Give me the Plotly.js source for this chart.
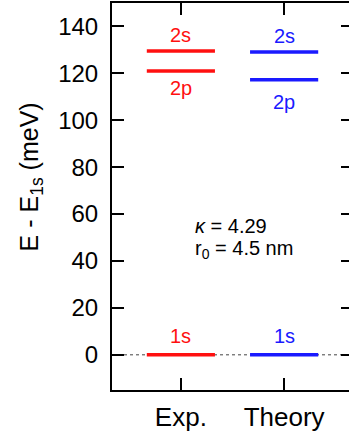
<!DOCTYPE html>
<html>
<head>
<meta charset="utf-8">
<script src="https://cdn.plot.ly/plotly-3.0.1.min.js"></script>
<style>
html, body { margin:0; padding:0; overflow:hidden; background:#fff; width:349px; height:434px; }
#chart { width:356px; height:434px; }
</style>
</head>
<body>
<div id="chart"></div>
<script>
// ---- data ----
const categories = ['Exp.', 'Theory'];
const levelNames = ['1s', '2p', '2s'];
const expLevels = [0, 121, 129.5];      // meV
const theoryLevels = [0, 117.3, 129.1]; // meV
const yTicks = [0, 20, 40, 60, 80, 100, 120, 140];
const paramText = ['κ = 4.29', 'r<sub>0</sub> = 4.5 nm'];

// ---- styles ----
const FONT = 'Arial, "Liberation Sans", sans-serif';
const colors = ['#ff1010', '#1a1aff'];
const halfW = 0.33;
const xRange = [-0.667, 1.667];

const series = [expLevels, theoryLevels];
const traces = [];

// dotted zero line
traces.push({
  x: xRange, y: [0, 0], mode: 'lines', hoverinfo: 'skip',
  line: {color: '#444', width: 1, dash: 'dot'}, showlegend: false
});

const annotations = [];
series.forEach((levels, ci) => {
  levels.forEach((v, li) => {
    traces.push({
      x: [ci - halfW, ci + halfW], y: [v, v], mode: 'lines',
      line: {color: colors[ci], width: 3.5}, showlegend: false, hoverinfo: 'skip'
    });
    const below = levelNames[li] === '2p';
    annotations.push({
      x: ci, y: v, xref: 'x', yref: 'y', text: levelNames[li], showarrow: false,
      font: {family: FONT, size: 20, color: colors[ci]},
      yanchor: 'middle', xanchor: 'center',
      yshift: below ? (ci === 0 ? -17 : -22) : (levelNames[li] === '1s' ? 19 : 16)
    });
  });
});

annotations.push({
  xref: 'paper', yref: 'paper', x: 0.335, y: 0.424, xanchor: 'left', yanchor: 'middle',
  text: '<i>κ</i>' + paramText[0].slice(1), showarrow: false, font: {family: FONT, size: 20, color: '#000'}
});
annotations.push({
  xref: 'paper', yref: 'paper', x: 0.335, y: 0.362, xanchor: 'left', yanchor: 'middle',
  text: paramText[1], showarrow: false, font: {family: FONT, size: 20, color: '#000'}
});
annotations.push({
  xref: 'paper', yref: 'paper', x: -0.335, y: 0.55, xanchor: 'center', yanchor: 'middle',
  textangle: -90, text: 'E - E<sub>1s</sub> (meV)', showarrow: false,
  font: {family: FONT, size: 25, color: '#000'}
});

const layout = {
  width: 356, height: 434,
  margin: {l: 112, r: 3, t: 3, b: 44, pad: 0},
  paper_bgcolor: '#fff', plot_bgcolor: '#fff',
  showlegend: false,
  font: {family: FONT, color: '#000'},
  xaxis: {
    range: xRange, tickmode: 'array', tickvals: categories.map((c, i) => i), ticktext: categories,
    showgrid: false, zeroline: false, showline: true, linecolor: '#000', linewidth: 2,
    mirror: 'ticks', ticks: 'inside', ticklen: 12, tickwidth: 2, tickcolor: '#000',
    tickfont: {family: FONT, size: 26, color: '#000'}, ticklabelstandoff: 3
  },
  yaxis: {
    range: [-15, 150], tickmode: 'array', tickvals: yTicks,
    showgrid: false, zeroline: false, showline: true, linecolor: '#000', linewidth: 2,
    mirror: 'ticks', ticks: 'inside', ticklen: 12, tickwidth: 2, tickcolor: '#000',
    tickfont: {family: FONT, size: 24, color: '#000'}, ticklabelstandoff: 7
  },
  annotations: annotations
};

Plotly.newPlot('chart', traces, layout, {displayModeBar: false, staticPlot: true});
</script>
</body>
</html>
